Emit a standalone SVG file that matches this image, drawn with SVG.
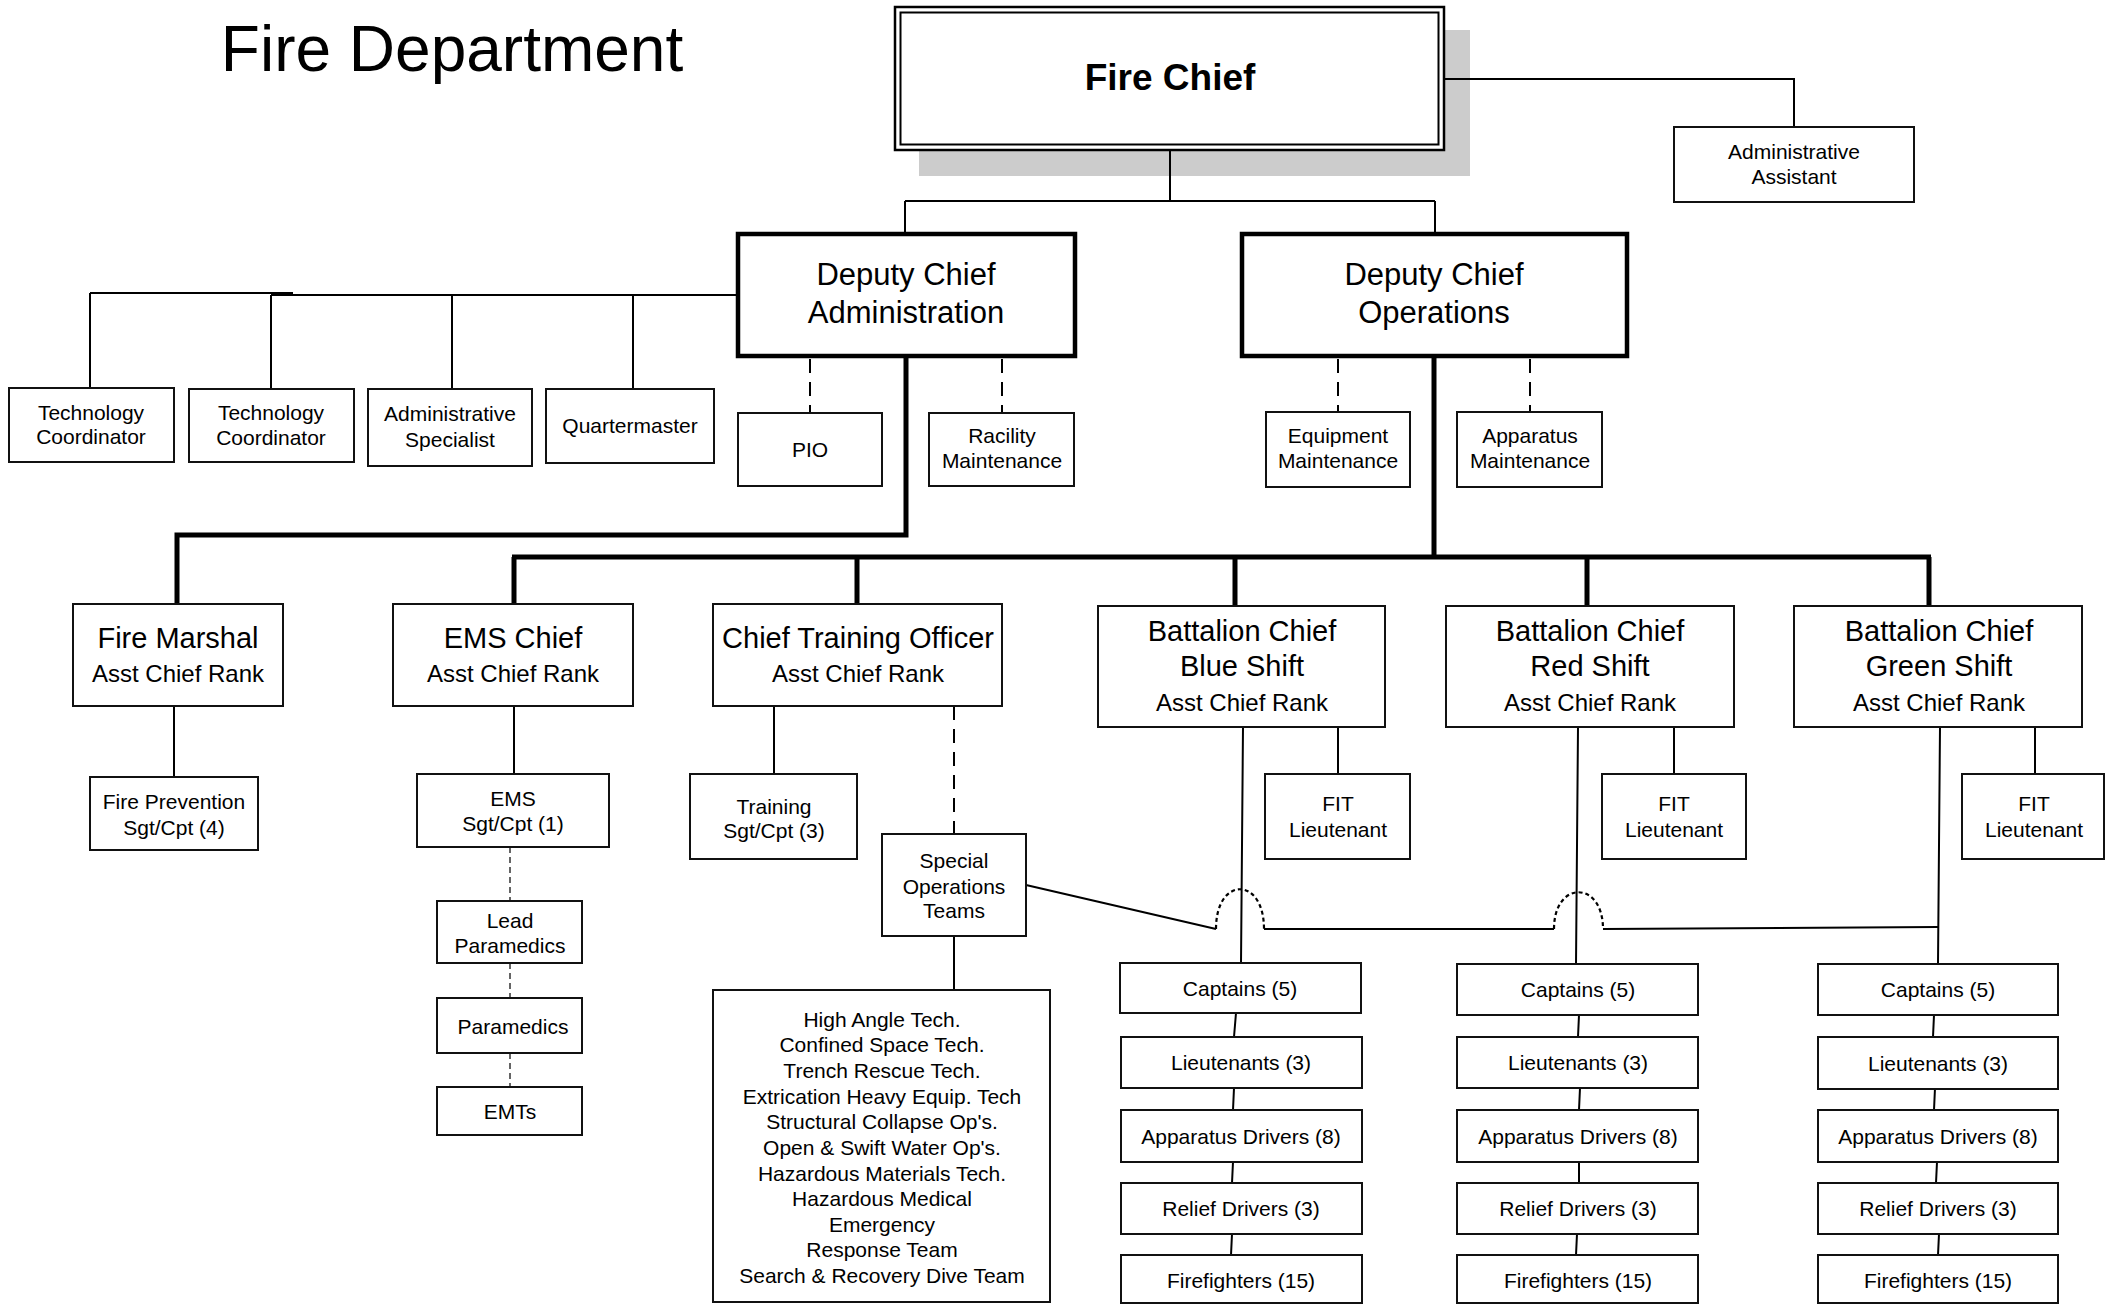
<svg xmlns="http://www.w3.org/2000/svg" width="2106" height="1304" viewBox="0 0 2106 1304">
<style>
text{font-family:"Liberation Sans",Arial,sans-serif;fill:#000;text-anchor:middle}
.box{fill:#fff;stroke:#111;stroke-width:2}
.thick{fill:#fff;stroke:#000;stroke-width:4.5}
.s{font-size:21px}
.m{font-size:24px}
.l{font-size:29px}
.xl{font-size:31px}
.ln{fill:none;stroke:#000;stroke-width:2}
.tk{fill:none;stroke:#000;stroke-width:5}
.dash{fill:none;stroke:#000;stroke-width:2;stroke-dasharray:14 9}
.fdash{fill:none;stroke:#333;stroke-width:1.5;stroke-dasharray:6 4}
.dot{fill:none;stroke:#000;stroke-width:2.2;stroke-dasharray:4 3}
</style>
<text x="452" y="71" style="font-size:64px">Fire Department</text>

<g id="fire-chief">
  <rect x="919" y="30" width="551" height="146" fill="#cccccc"/>
  <rect x="895" y="7" width="549" height="143" fill="#fff" stroke="#000" stroke-width="2.5"/>
  <rect x="900.5" y="12.5" width="538" height="132" fill="none" stroke="#000" stroke-width="2"/>
  <text x="1170" y="90" style="font-size:37px;font-weight:bold">Fire Chief</text>
</g>

<g id="connectors">
  <!-- Fire chief -->
  <path class="ln" d="M1445,79 H1794 V127"/>
  <path class="ln" d="M1170,151 V201 M905,201 H1435 M905,201 V233 M1435,201 V233"/>
  <!-- Deputy Admin left staff -->
  <path class="ln" d="M90,293 H293 M271,295 H738 M90,293 V388 M271,295 V389 M452,295 V389 M633,295 V389"/>
  <path class="dash" d="M810,359 V413 M1002,359 V413 M1338,359 V412 M1530,359 V412"/>
  <!-- thick lines -->
  <path class="tk" d="M906,356 V535 H177 V604"/>
  <path class="tk" d="M1434,356 V557 M512,557 H1931 M514,557 V604 M857,557 V604 M1235,557 V606 M1587,557 V606 M1929,557 V606"/>
  <!-- level 3 -->
  <path class="ln" d="M174,706 V777 M514,706 V774 M774,706 V774"/>
  <path class="dash" d="M954,706 V834"/>
  <path class="ln" d="M954,936 V990"/>
  <path class="fdash" d="M510,847 V901 M510,963 V998 M510,1053 V1087"/>
  <path class="ln" d="M1338,727 V774 M1674,727 V774 M2035,727 V774"/>
  <!-- battalion verticals -->
  <path class="ln" d="M1243,727 L1241,963 M1578,727 L1576,964 M1940,727 L1938,963"/>
  <!-- special ops link with hops -->
  <path class="ln" d="M1026,885 L1216,929 M1264,929 H1554 M1603,929 L1938,927"/>
  <path class="dot" d="M1216,929 C1216,876 1264,876 1264,929 M1554,929 C1554,880 1603,880 1603,929"/>
  <!-- staff column connectors -->
  <path class="ln" d="M1236,1013 L1234,1037 M1234,1088 L1233,1110 M1233,1162 L1232,1183 M1232,1234 L1231,1255"/>
  <path class="ln" d="M1579,1015 L1578,1037 M1580,1088 L1579,1110 M1579,1162 L1579,1183 M1577,1234 L1576,1255"/>
  <path class="ln" d="M1934,1015 L1933,1037 M1935,1088 L1934,1110 M1937,1162 L1936,1183 M1939,1234 L1938,1255"/>
</g>

<g id="admin-assistant">
  <rect class="box" x="1674" y="127" width="240" height="75"/>
  <text class="s" x="1794" y="159">Administrative</text>
  <text class="s" x="1794" y="184">Assistant</text>
</g>
<g id="deputy-admin">
  <rect class="thick" x="738" y="234" width="337" height="122"/>
  <text class="xl" x="906" y="285">Deputy Chief</text>
  <text class="xl" x="906" y="323">Administration</text>
</g>
<g id="deputy-ops">
  <rect class="thick" x="1242" y="234" width="385" height="122"/>
  <text class="xl" x="1434" y="285">Deputy Chief</text>
  <text class="xl" x="1434" y="323">Operations</text>
</g>
<g id="tech-coord-1">
  <rect class="box" x="9" y="388" width="165" height="74" stroke="#444"/>
  <text class="s" x="91" y="420">Technology</text>
  <text class="s" x="91" y="444">Coordinator</text>
</g>
<g id="tech-coord-2">
  <rect class="box" x="189" y="389" width="165" height="73" stroke="#444"/>
  <text class="s" x="271" y="420">Technology</text>
  <text class="s" x="271" y="445">Coordinator</text>
</g>
<g id="admin-specialist">
  <rect class="box" x="368" y="389" width="164" height="77" stroke="#000" stroke-width="2.5"/>
  <text class="s" x="450" y="421">Administrative</text>
  <text class="s" x="450" y="447">Specialist</text>
</g>
<g id="quartermaster">
  <rect class="box" x="546" y="389" width="168" height="74" stroke="#444"/>
  <text class="s" x="630" y="433">Quartermaster</text>
</g>
<g id="pio">
  <rect class="box" x="738" y="413" width="144" height="73" stroke="#444"/>
  <text class="s" x="810" y="457">PIO</text>
</g>
<g id="racility-maintenance">
  <rect class="box" x="929" y="413" width="145" height="73" stroke="#444"/>
  <text class="s" x="1002" y="443">Racility</text>
  <text class="s" x="1002" y="468">Maintenance</text>
</g>
<g id="equipment-maintenance">
  <rect class="box" x="1266" y="412" width="144" height="75" stroke="#444"/>
  <text class="s" x="1338" y="443">Equipment</text>
  <text class="s" x="1338" y="468">Maintenance</text>
</g>
<g id="apparatus-maintenance">
  <rect class="box" x="1457" y="412" width="145" height="75" stroke="#444"/>
  <text class="s" x="1530" y="443">Apparatus</text>
  <text class="s" x="1530" y="468">Maintenance</text>
</g>

<g id="fire-marshal">
  <rect class="box" x="73" y="604" width="210" height="102"/>
  <text class="l" x="178" y="648">Fire Marshal</text>
  <text class="m" x="178" y="682">Asst Chief Rank</text>
</g>
<g id="ems-chief">
  <rect class="box" x="393" y="604" width="240" height="102"/>
  <text class="l" x="513" y="648">EMS Chief</text>
  <text class="m" x="513" y="682">Asst Chief Rank</text>
</g>
<g id="chief-training-officer">
  <rect class="box" x="713" y="604" width="289" height="102"/>
  <text class="l" x="858" y="648">Chief Training Officer</text>
  <text class="m" x="858" y="682">Asst Chief Rank</text>
</g>
<g id="bc-blue">
  <rect class="box" x="1098" y="606" width="287" height="121"/>
  <text class="l" x="1242" y="641">Battalion Chief</text>
  <text class="l" x="1242" y="676">Blue Shift</text>
  <text class="m" x="1242" y="711">Asst Chief Rank</text>
</g>
<g id="bc-red">
  <rect class="box" x="1446" y="606" width="288" height="121"/>
  <text class="l" x="1590" y="641">Battalion Chief</text>
  <text class="l" x="1590" y="676">Red Shift</text>
  <text class="m" x="1590" y="711">Asst Chief Rank</text>
</g>
<g id="bc-green">
  <rect class="box" x="1794" y="606" width="288" height="121"/>
  <text class="l" x="1939" y="641">Battalion Chief</text>
  <text class="l" x="1939" y="676">Green Shift</text>
  <text class="m" x="1939" y="711">Asst Chief Rank</text>
</g>

<g id="fire-prevention">
  <rect class="box" x="90" y="777" width="168" height="73"/>
  <text class="s" x="174" y="809">Fire Prevention</text>
  <text class="s" x="174" y="835">Sgt/Cpt (4)</text>
</g>
<g id="ems-sgt">
  <rect class="box" x="417" y="774" width="192" height="73"/>
  <text class="s" x="513" y="806">EMS</text>
  <text class="s" x="513" y="831">Sgt/Cpt (1)</text>
</g>
<g id="lead-paramedics">
  <rect class="box" x="437" y="901" width="145" height="62"/>
  <text class="s" x="510" y="928">Lead</text>
  <text class="s" x="510" y="953">Paramedics</text>
</g>
<g id="paramedics">
  <rect class="box" x="437" y="998" width="145" height="55"/>
  <text class="s" x="513" y="1034">Paramedics</text>
</g>
<g id="emts">
  <rect class="box" x="437" y="1087" width="145" height="48"/>
  <text class="s" x="510" y="1119">EMTs</text>
</g>
<g id="training-sgt">
  <rect class="box" x="690" y="774" width="167" height="85"/>
  <text class="s" x="774" y="814">Training</text>
  <text class="s" x="774" y="838">Sgt/Cpt (3)</text>
</g>
<g id="special-ops">
  <rect class="box" x="882" y="834" width="144" height="102"/>
  <text class="s" x="954" y="868">Special</text>
  <text class="s" x="954" y="894">Operations</text>
  <text class="s" x="954" y="918">Teams</text>
</g>
<g id="special-ops-list">
  <rect class="box" x="713" y="990" width="337" height="312"/>
  <text class="s" x="882" y="1027">High Angle Tech.</text>
  <text class="s" x="882" y="1052">Confined Space Tech.</text>
  <text class="s" x="882" y="1078">Trench Rescue Tech.</text>
  <text class="s" x="882" y="1104">Extrication Heavy Equip. Tech</text>
  <text class="s" x="882" y="1129">Structural Collapse Op's.</text>
  <text class="s" x="882" y="1155">Open &amp; Swift Water Op's.</text>
  <text class="s" x="882" y="1181">Hazardous Materials Tech.</text>
  <text class="s" x="882" y="1206">Hazardous Medical</text>
  <text class="s" x="882" y="1232">Emergency</text>
  <text class="s" x="882" y="1257">Response Team</text>
  <text class="s" x="882" y="1283">Search &amp; Recovery Dive Team</text>
</g>

<g id="fit-blue">
  <rect class="box" x="1265" y="774" width="145" height="85"/>
  <text class="s" x="1338" y="811">FIT</text>
  <text class="s" x="1338" y="837">Lieutenant</text>
</g>
<g id="fit-red">
  <rect class="box" x="1602" y="774" width="144" height="85"/>
  <text class="s" x="1674" y="811">FIT</text>
  <text class="s" x="1674" y="837">Lieutenant</text>
</g>
<g id="fit-green">
  <rect class="box" x="1962" y="774" width="142" height="85"/>
  <text class="s" x="2034" y="811">FIT</text>
  <text class="s" x="2034" y="837">Lieutenant</text>
</g>

<g id="blue-captains"><rect class="box" x="1120" y="963" width="241" height="50"/><text class="s" x="1240" y="996">Captains (5)</text></g>
<g id="blue-lieutenants"><rect class="box" x="1121" y="1037" width="241" height="51"/><text class="s" x="1241" y="1070">Lieutenants (3)</text></g>
<g id="blue-drivers"><rect class="box" x="1121" y="1110" width="241" height="52"/><text class="s" x="1241" y="1144">Apparatus Drivers (8)</text></g>
<g id="blue-relief"><rect class="box" x="1121" y="1183" width="241" height="51"/><text class="s" x="1241" y="1216">Relief Drivers (3)</text></g>
<g id="blue-firefighters"><rect class="box" x="1121" y="1255" width="241" height="48"/><text class="s" x="1241" y="1288">Firefighters (15)</text></g>

<g id="red-captains"><rect class="box" x="1457" y="964" width="241" height="51"/><text class="s" x="1578" y="997">Captains (5)</text></g>
<g id="red-lieutenants"><rect class="box" x="1457" y="1037" width="241" height="51"/><text class="s" x="1578" y="1070">Lieutenants (3)</text></g>
<g id="red-drivers"><rect class="box" x="1457" y="1110" width="241" height="52"/><text class="s" x="1578" y="1144">Apparatus Drivers (8)</text></g>
<g id="red-relief"><rect class="box" x="1457" y="1183" width="241" height="51"/><text class="s" x="1578" y="1216">Relief Drivers (3)</text></g>
<g id="red-firefighters"><rect class="box" x="1457" y="1255" width="241" height="48"/><text class="s" x="1578" y="1288">Firefighters (15)</text></g>

<g id="green-captains"><rect class="box" x="1818" y="964" width="240" height="51"/><text class="s" x="1938" y="997">Captains (5)</text></g>
<g id="green-lieutenants"><rect class="box" x="1818" y="1037" width="240" height="52"/><text class="s" x="1938" y="1071">Lieutenants (3)</text></g>
<g id="green-drivers"><rect class="box" x="1818" y="1110" width="240" height="52"/><text class="s" x="1938" y="1144">Apparatus Drivers (8)</text></g>
<g id="green-relief"><rect class="box" x="1818" y="1183" width="240" height="51"/><text class="s" x="1938" y="1216">Relief Drivers (3)</text></g>
<g id="green-firefighters"><rect class="box" x="1818" y="1255" width="240" height="48"/><text class="s" x="1938" y="1288">Firefighters (15)</text></g>
</svg>
